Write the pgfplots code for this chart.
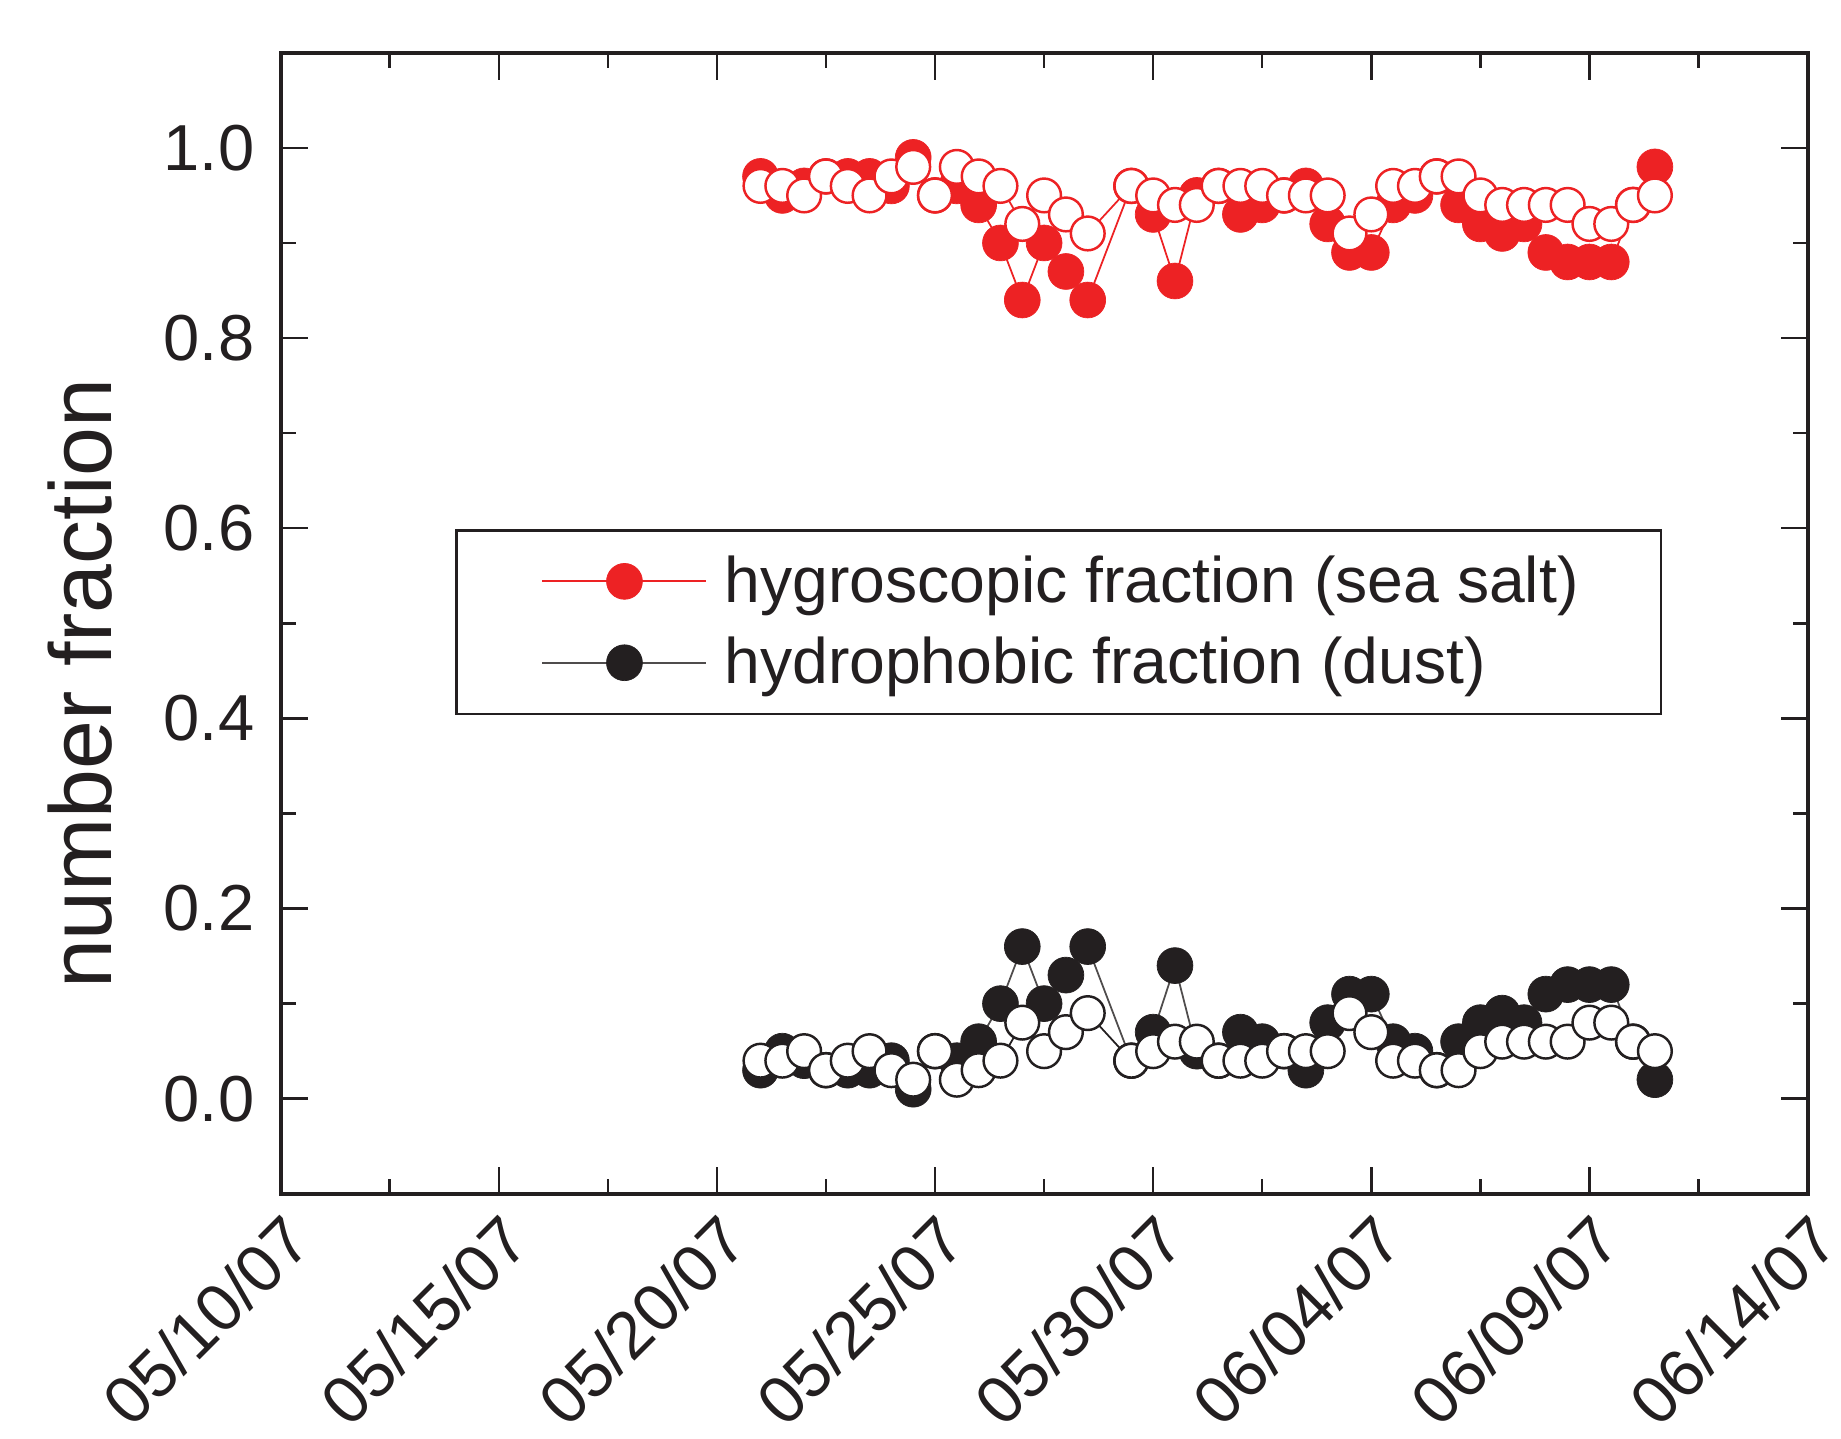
\documentclass[border=0pt]{standalone}
\usepackage{pgfplots}
\usepackage{pgfplotstable}
\pgfplotsset{compat=1.18}
\usepackage{fontspec}
\setmainfont{Liberation Sans}
\definecolor{salt}{HTML}{ED2224}
\definecolor{dust}{HTML}{231F20}

% day = days after 05/10/07; f = filled markers, o = open markers
\pgfplotstableread{
day  hygf hygo hydf hydo
11.0 0.97 0.96 0.03 0.04
11.5 0.95 0.96 0.05 0.04
12.0 0.96 0.95 0.04 0.05
12.5 0.97 0.97 0.03 0.03
13.0 0.97 0.96 0.03 0.04
13.5 0.97 0.95 0.03 0.05
14.0 0.96 0.97 0.04 0.03
14.5 0.99 0.98 0.01 0.02
15.0 0.95 0.95 0.05 0.05
15.5 0.96 0.98 0.04 0.02
16.0 0.94 0.97 0.06 0.03
16.5 0.90 0.96 0.10 0.04
17.0 0.84 0.92 0.16 0.08
17.5 0.90 0.95 0.10 0.05
18.0 0.87 0.93 0.13 0.07
18.5 0.84 0.91 0.16 0.09
19.5 0.96 0.96 0.04 0.04
20.0 0.93 0.95 0.07 0.05
20.5 0.86 0.94 0.14 0.06
21.0 0.95 0.94 0.05 0.06
21.5 0.96 0.96 0.04 0.04
22.0 0.93 0.96 0.07 0.04
22.5 0.94 0.96 0.06 0.04
23.0 0.95 0.95 0.05 0.05
23.5 0.96 0.95 0.03 0.05
24.0 0.92 0.95 0.08 0.05
24.5 0.89 0.91 0.11 0.09
25.0 0.89 0.93 0.11 0.07
25.5 0.94 0.96 0.06 0.04
26.0 0.95 0.96 0.05 0.04
26.5 0.97 0.97 0.03 0.03
27.0 0.94 0.97 0.06 0.03
27.5 0.92 0.95 0.08 0.05
28.0 0.91 0.94 0.09 0.06
28.5 0.92 0.94 0.08 0.06
29.0 0.89 0.94 0.11 0.06
29.5 0.88 0.94 0.12 0.06
30.0 0.88 0.92 0.12 0.08
30.5 0.88 0.92 0.12 0.08
31.0 0.94 0.94 0.06 0.06
31.5 0.98 0.95 0.02 0.05
}\fractions

\begin{document}
\begin{tikzpicture}
\useasboundingbox (-2.806,-2.45) rectangle (15.604,11.938);
\begin{axis}[
  at={(0,0)}, anchor=south west,
  scale only axis,
  width=15.27cm, height=11.41cm,
  xmin=0, xmax=35,
  ymin=-0.1, ymax=1.1,
  xtick={0,5,10,15,20,25,30,35},
  xticklabels={05/10/07,05/15/07,05/20/07,05/25/07,05/30/07,06/04/07,06/09/07,06/14/07},
  minor x tick num=1,
  ytick={0,0.2,0.4,0.6,0.8,1.0},
  minor y tick num=1,
  /pgf/number format/assume math mode=true,
  tick align=inside,
  major tick length=0.27cm,
  minor tick length=0.15cm,
  every tick/.style={dust, line width=0.7pt},
  axis line style={dust, line width=1.1pt},
  tick label style={font=\fontsize{18.5}{22}\selectfont, dust},
  yticklabel style={xshift=-0.14cm, /pgf/number format/.cd, fixed, fixed zerofill, precision=1},
  xticklabel style={font=\fontsize{19}{22}\selectfont, rotate=45, anchor=north east},
  ylabel={number fraction},
  ylabel style={font=\fontsize{25}{30}\selectfont, dust, at={(axis description cs:-0.111,0.447)}, anchor=base},
  legend style={at={(axis description cs:0.1145,0.5824)}, anchor=north west,
    draw=dust, line width=0.65pt, font=\fontsize{18.3}{22}\selectfont,
    inner xsep=0.72cm, inner ysep=0.15cm, row sep=0.095cm,
    nodes={inner xsep=0.1cm, inner ysep=0.1cm, text=dust}},
  legend cell align=left,
  legend image code/.code={
    \path (-0.13cm,0cm) (1.71cm,0cm);
    \draw[mark repeat=2,mark phase=2] plot coordinates {(0cm,0cm)(0.82cm,0cm)(1.64cm,0cm)};},
]
\addplot[salt, line width=0.5pt, mark=*, mark size=5.1pt,
  mark options={fill=salt, draw=salt, line width=0.2pt}]
  table[x=day, y=hygf]{\fractions};
\addlegendentry{hygroscopic fraction (sea salt)}
\addplot[dust!80, line width=0.5pt, mark=*, mark size=5.1pt,
  mark options={fill=dust, draw=dust, line width=0.2pt}]
  table[x=day, y=hydf]{\fractions};
\addlegendentry{hydrophobic fraction (dust)}
\addplot[salt, line width=0.5pt, mark=*, mark size=4.8pt, forget plot,
  mark options={fill=white, draw=salt, line width=0.7pt}]
  table[x=day, y=hygo]{\fractions};
\addplot[dust, line width=0.5pt, mark=*, mark size=4.8pt, forget plot,
  mark options={fill=white, draw=dust, line width=0.7pt}]
  table[x=day, y=hydo]{\fractions};
\end{axis}
\end{tikzpicture}
\end{document}
